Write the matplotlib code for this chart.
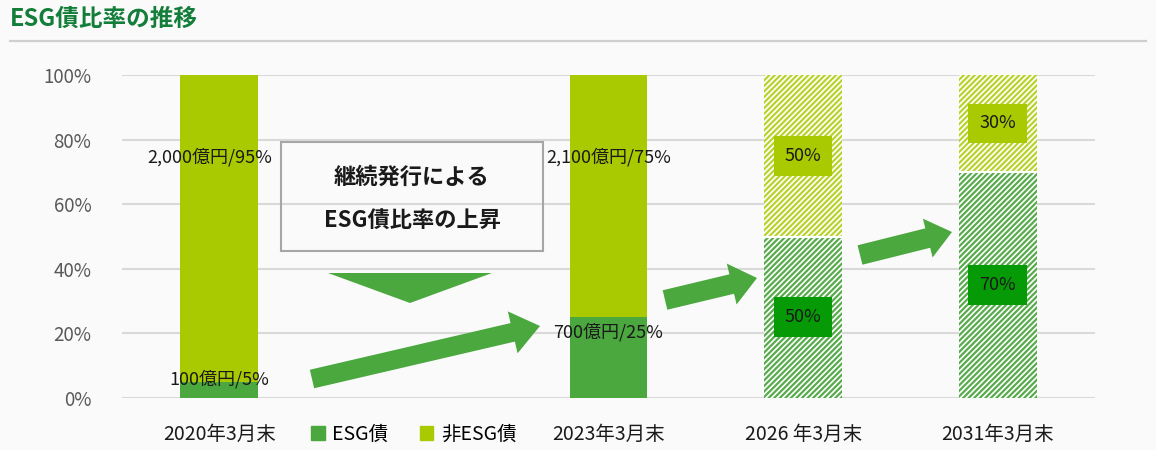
import matplotlib
matplotlib.use("Agg")
import matplotlib.pyplot as plt
from matplotlib.patches import FancyArrow, Rectangle, Polygon, Patch
from matplotlib.lines import Line2D

plt.rcParams['font.family'] = ['Noto Sans CJK JP', 'DejaVu Sans']
plt.rcParams['hatch.linewidth'] = 1.6

# データ
categories = ['2020年3月末', '2023年3月末', '2026 年3月末', '2031年3月末']
esg = [5, 25, 50, 70]
non_esg = [95, 75, 50, 30]
forecast = [False, False, True, True]
esg_labels = ['100億円/5%', '700億円/25%', '50%', '70%']
non_esg_labels = ['2,000億円/95%', '2,100億円/75%', '50%', '30%']
yticks = [0, 20, 40, 60, 80, 100]

# レイアウト
xpos = [0, 2, 3, 4]
esg_label_y = [5.9, 20.4, None, None]
non_label_y = [74.6, 74.6, None, None]

c_esg = '#4ba83f'
c_non = '#a9c900'
c_esg_hatch = '#58ab4c'
c_non_hatch = '#b9d22e'
c_esg_box = '#079a07'
bg = '#fafafa'

fig = plt.figure(figsize=(11.56, 4.5), dpi=100, facecolor=bg)
ax = fig.add_axes([122 / 1156, 1 - 398 / 450, 973 / 1156, 323 / 450])
ax.set_facecolor(bg)

for i, x in enumerate(xpos):
    if forecast[i]:
        ax.bar(x, esg[i], width=0.4, color='white', edgecolor=c_esg_hatch,
               hatch='//////', linewidth=0)
        ax.bar(x, non_esg[i], bottom=esg[i], width=0.4, color='white',
               edgecolor=c_non_hatch, hatch='//////', linewidth=0)
        ax.plot([x - 0.2, x + 0.2], [esg[i], esg[i]], color='white', lw=1.5, zorder=3)
        ax.text(x, esg[i] / 2, esg_labels[i], ha='center', va='center', fontsize=13,
                color='#1a1a1a', zorder=4,
                bbox=dict(boxstyle='square,pad=0.6', fc=c_esg_box, ec='none'))
        ax.text(x, esg[i] + non_esg[i] / 2, non_esg_labels[i], ha='center', va='center',
                fontsize=13, color='#1a1a1a', zorder=4,
                bbox=dict(boxstyle='square,pad=0.6', fc=c_non, ec='none'))
    else:
        ax.bar(x, esg[i], width=0.4, color=c_esg, linewidth=0)
        ax.bar(x, non_esg[i], bottom=esg[i], width=0.4, color=c_non, linewidth=0)
        ax.text(x, esg_label_y[i], esg_labels[i], ha='center', va='center',
                fontsize=13, color='#1a1a1a', zorder=4)
        ax.text(x - 0.05 * (i == 0), non_label_y[i], non_esg_labels[i], ha='center',
                va='center', fontsize=13, color='#1a1a1a', zorder=4)

ax.set_xlim(-0.5, 4.5)
ax.set_ylim(0, 100)
ax.set_yticks(yticks)
ax.set_yticklabels([f'{v}%' for v in yticks], fontsize=13.5, color='#595959')
ax.set_xticks(xpos)
ax.set_xticklabels(categories, fontsize=14, color='#1a1a1a')
ax.tick_params(length=0, axis='x', pad=19)
ax.tick_params(length=0, axis='y', pad=22)
ax.grid(axis='y', color='#d9d9d9', lw=1.5)
ax.set_axisbelow(True)
for s in ax.spines.values():
    s.set_visible(False)

handles = [Patch(color=c_esg, label='ESG債'), Patch(color=c_non, label='非ESG債')]
ax.legend(handles=handles, ncol=2, loc='center', frameon=False, fontsize=14,
          bbox_to_anchor=(1, -0.112), bbox_transform=ax.get_xaxis_transform(),
          handlelength=0.7, handleheight=0.7, handletextpad=0.4, columnspacing=1.6)

# タイトル
fig.text(10 / 1156, 1 - 19 / 450, 'ESG債比率の推移', fontsize=17, fontweight='bold',
         color='#137d3a', va='center', ha='left')
fig.add_artist(Line2D([10 / 1156, 1146 / 1156], [1 - 41 / 450, 1 - 41 / 450],
                      color='#cfcfcf', lw=1.6))

# 注記ボックス
tr = fig.dpi_scale_trans
fig.add_artist(Rectangle((2.81, 1.99), 2.62, 1.09, transform=tr, fc='none',
                         ec='#a6a6a6', lw=1.5))
fig.text(4.12, 2.73, '継続発行による', transform=tr, ha='center', va='center',
         fontsize=16, fontweight='bold', color='#1a1a1a')
fig.text(4.12, 2.29, 'ESG債比率の上昇', transform=tr, ha='center', va='center',
         fontsize=16, fontweight='bold', color='#1a1a1a')
fig.add_artist(Polygon([(3.28, 1.77), (4.92, 1.77), (4.10, 1.47)], transform=tr,
                       fc=c_esg, ec='none'))

# 矢印
arrows = [((3.12, 0.71), (5.40, 1.24), 0.19, 0.43, 0.28),
          ((6.65, 1.50), (7.57, 1.72), 0.20, 0.42, 0.26),
          ((8.60, 1.95), (9.52, 2.18), 0.20, 0.40, 0.25)]
for (x0, y0), (x1, y1), w, hw, hl in arrows:
    fig.add_artist(FancyArrow(x0, y0, x1 - x0, y1 - y0, width=w, head_width=hw,
                              head_length=hl, length_includes_head=True,
                              transform=tr, fc=c_esg, ec='none'))

fig.savefig('out.png', dpi=100, facecolor=bg)
